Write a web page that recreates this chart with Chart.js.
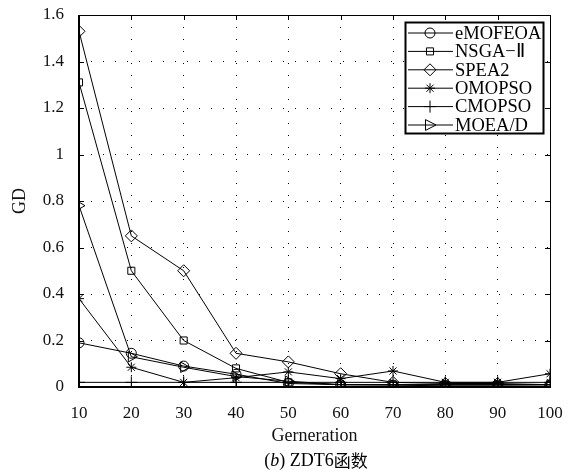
<!DOCTYPE html>
<html>
<head>
<meta charset="utf-8">
<script src="https://cdn.jsdelivr.net/npm/chart.js@4.4.1/dist/chart.umd.min.js"></script>
<style>
  html, body { margin: 0; padding: 0; background: #fff; }
  #wrap { width: 568px; height: 474px; }
</style>
</head>
<body>
<div id="wrap"><canvas id="gdChart" width="568" height="474"></canvas></div>
<script>
// data (GD vs generation, ZDT6)
var generations = [10, 20, 30, 40, 50, 60, 70, 80, 90, 100];
var eMOFEOA = [0.19, 0.145, 0.09, 0.055, 0.015, 0.01, 0.008, 0.005, 0.005, 0.003];
var NSGA2   = [1.31, 0.50, 0.20, 0.08, 0.02, 0.01, 0.01, 0.01, 0.01, 0.01];
var SPEA2   = [1.53, 0.65, 0.50, 0.145, 0.108, 0.057, 0.02, 0.015, 0.015, 0.01];
var OMOPSO  = [0.38, 0.085, 0.02, 0.04, 0.065, 0.036, 0.069, 0.02, 0.02, 0.057];
var CMOPSO  = [0.02, 0.02, 0.02, 0.02, 0.02, 0.02, 0.02, 0.02, 0.02, 0.02];
var MOEAD   = [0.78, 0.13, 0.085, 0.045, 0.025, 0.01, 0.01, 0.01, 0.01, 0.01];
var yTicks  = [0, 0.2, 0.4, 0.6, 0.8, 1, 1.2, 1.4, 1.6];

var SERIF = '"Liberation Serif", "Times New Roman", serif';

// name, values, marker style, rotation, radius
var seriesList = [
  ['eMOFEOA', eMOFEOA, 'circle', 0, 5],
  ['NSGA\u2212\u2161', NSGA2, 'rect', 0, 5],
  ['SPEA2', SPEA2, 'rectRot', 0, 6],
  ['OMOPSO', OMOPSO, 'star', 0, 5],
  ['CMOPSO', CMOPSO, 'cross', 0, 6],
  ['MOEA/D', MOEAD, 'triangle', 90, 6]
];

function pts(vals) {
  return generations.map(function (g, i) { return { x: g, y: vals[i] }; });
}

var datasets = seriesList.map(function (s) {
  return {
    label: s[0],
    data: pts(s[1]),
    borderColor: '#000',
    borderWidth: 1,
    pointStyle: s[2],
    pointRotation: s[3],
    pointRadius: s[4],
    pointBorderWidth: 1,
    pointBorderColor: '#000',
    pointBackgroundColor: 'rgba(0,0,0,0)',
    tension: 0,
    fill: false
  };
});

// little marker painter for the legend, same shapes as the plot
function marker(ctx, style, rot, r, x, y) {
  ctx.save();
  ctx.translate(x, y);
  ctx.rotate(rot * Math.PI / 180);
  ctx.beginPath();
  if (style === 'circle') {
    ctx.arc(0, 0, r, 0, Math.PI * 2);
  } else if (style === 'rect') {
    var s = r / Math.SQRT2;
    ctx.rect(-s, -s, 2 * s, 2 * s);
  } else if (style === 'rectRot') {
    ctx.moveTo(0, -r); ctx.lineTo(r, 0); ctx.lineTo(0, r); ctx.lineTo(-r, 0); ctx.closePath();
  } else if (style === 'cross') {
    ctx.moveTo(0, -r); ctx.lineTo(0, r); ctx.moveTo(-r, 0); ctx.lineTo(r, 0);
  } else if (style === 'star') {
    var d = r * Math.SQRT1_2;
    ctx.moveTo(0, -r); ctx.lineTo(0, r); ctx.moveTo(-r, 0); ctx.lineTo(r, 0);
    ctx.moveTo(-d, -d); ctx.lineTo(d, d); ctx.moveTo(-d, d); ctx.lineTo(d, -d);
  } else if (style === 'triangle') {
    var h = r * 1.5;
    ctx.moveTo(0, -r); ctx.lineTo(h * 0.6, r * 0.75); ctx.lineTo(-h * 0.6, r * 0.75); ctx.closePath();
  }
  ctx.stroke();
  ctx.restore();
}

var framePlugin = {
  id: 'frame',
  afterDatasetsDraw: function (chart) {
    var ctx = chart.ctx, a = chart.chartArea;
    var xs = chart.scales.x, ys = chart.scales.y;
    ctx.save();
    ctx.strokeStyle = '#000';
    // inward ticks
    ctx.lineWidth = 1;
    ctx.beginPath();
    generations.forEach(function (g) {
      var px = Math.round(xs.getPixelForValue(g)) + 0.5;
      ctx.moveTo(px, a.bottom); ctx.lineTo(px, a.bottom - 5);
      ctx.moveTo(px, a.top); ctx.lineTo(px, a.top + 5);
    });
    yTicks.forEach(function (v) {
      var py = Math.round(ys.getPixelForValue(v)) + 0.5;
      ctx.moveTo(a.left, py); ctx.lineTo(a.left + 5, py);
      ctx.moveTo(a.right, py); ctx.lineTo(a.right - 5, py);
    });
    ctx.stroke();
    // box: top/right thin, left/bottom heavier
    ctx.beginPath();
    ctx.moveTo(a.left, a.top + 0.5); ctx.lineTo(a.right + 0.5, a.top + 0.5); ctx.lineTo(a.right + 0.5, a.bottom);
    ctx.stroke();
    ctx.lineWidth = 2;
    ctx.beginPath();
    ctx.moveTo(a.left, a.top); ctx.lineTo(a.left, a.bottom); ctx.lineTo(a.right + 1, a.bottom);
    ctx.stroke();

    // legend
    var lx = 405, ly = 22, lw = 138, lh = 111;
    ctx.fillStyle = '#fff';
    ctx.fillRect(lx, ly, lw, lh);
    ctx.lineWidth = 2;
    ctx.strokeRect(lx + 0.5, ly + 0.5, lw, lh);
    ctx.font = '18.5px ' + SERIF;
    ctx.textBaseline = 'middle';
    ctx.fillStyle = '#000';
    seriesList.forEach(function (s, i) {
      var yy = ly + 11 + i * 18.4;
      ctx.lineWidth = 1;
      ctx.beginPath();
      ctx.moveTo(lx + 3, yy); ctx.lineTo(lx + 48, yy);
      ctx.stroke();
      marker(ctx, s[2], s[3], s[4], lx + 25, yy);
      ctx.fillText(s[0], lx + 50, yy + 1);
    });

    // caption "(b) ZDT6函数"
    var cy = 461;
    var parts = [
      ['(', '18px ' + SERIF],
      ['b', 'italic 18px ' + SERIF],
      [') ZDT6', '18px ' + SERIF],
      ['\u51fd\u6570', '17px "Noto Sans CJK SC", sans-serif']
    ];
    var total = 0;
    parts.forEach(function (p) { ctx.font = p[1]; total += ctx.measureText(p[0]).width; });
    var cx = 316 - total / 2;
    ctx.textAlign = 'left';
    parts.forEach(function (p) {
      ctx.font = p[1];
      ctx.fillText(p[0], cx, cy);
      cx += ctx.measureText(p[0]).width;
    });
    ctx.restore();
  }
};

new Chart(document.getElementById('gdChart').getContext('2d'), {
  type: 'line',
  data: { datasets: datasets },
  options: {
    responsive: false,
    animation: false,
    layout: { padding: { top: 15, right: 18, bottom: 0, left: 0 } },
    plugins: { legend: { display: false }, tooltip: { enabled: false } },
    scales: {
      x: {
        type: 'linear',
        min: 10,
        max: 100,
        afterFit: function (scale) {
          scale.height = 87;
          scale.paddingLeft = 0; scale.paddingRight = 0;
        },
        ticks: {
          stepSize: 10,
          padding: 16,
          color: '#111',
          font: { family: SERIF, size: 17 }
        },
        grid: { drawTicks: false, color: '#000', lineWidth: 1 },
        border: { display: false, dash: [1, 11] },
        title: {
          display: true,
          text: 'Gerneration',
          color: '#111',
          font: { family: SERIF, size: 18 },
          padding: { top: 0, bottom: 27 }
        }
      },
      y: {
        min: 0,
        max: 1.6,
        afterFit: function (scale) {
          scale.width = 79;
          scale.paddingTop = 0; scale.paddingBottom = 0;
        },
        ticks: {
          stepSize: 0.2,
          padding: 15,
          color: '#111',
          font: { family: SERIF, size: 17 },
          callback: function (v) { return String(+v.toFixed(1)); }
        },
        grid: { drawTicks: false, color: '#000', lineWidth: 1 },
        border: { display: false, dash: [1, 11] },
        title: {
          display: true,
          text: 'GD',
          color: '#111',
          font: { family: SERIF, size: 18 },
          padding: { top: 9, bottom: 0 }
        }
      }
    }
  },
  plugins: [framePlugin]
});
</script>
</body>
</html>
